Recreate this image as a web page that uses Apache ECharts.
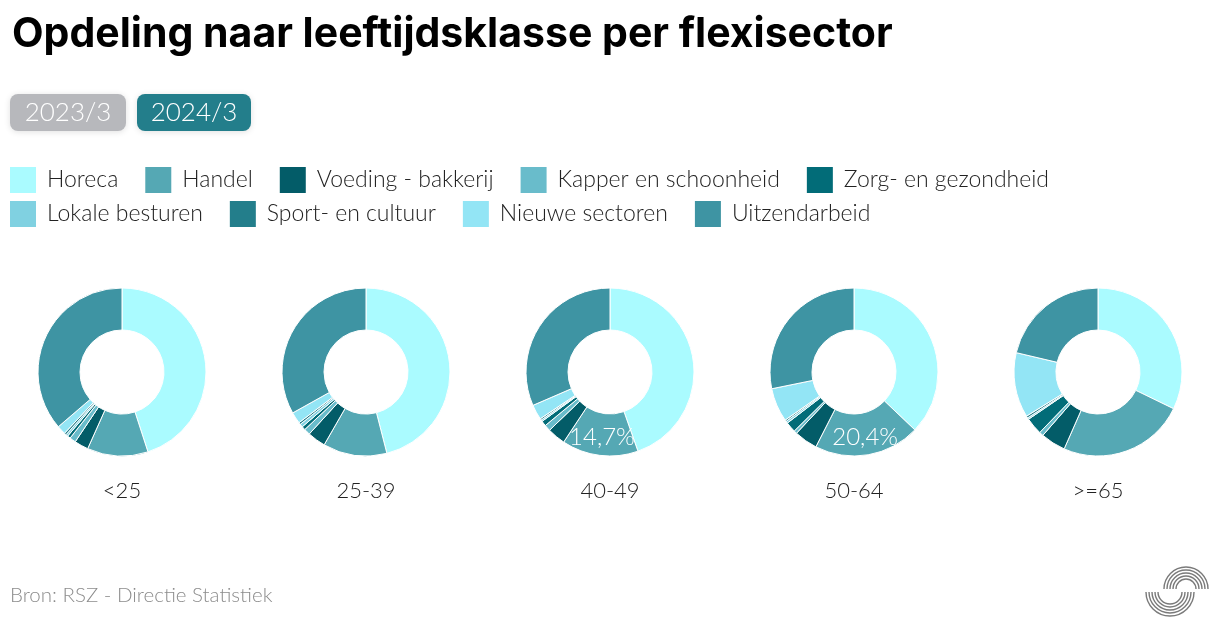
<!DOCTYPE html>
<html>
<head>
<meta charset="utf-8">
<script src="https://cdn.jsdelivr.net/npm/echarts@6/dist/echarts.min.js"></script>
<style>
html,body{margin:0;padding:0;background:#fff;}
#chart{width:1220px;height:632px;}
</style>
</head>
<body>
<div id="chart"></div>
<script>
const titleText = 'Opdeling naar leeftijdsklasse per flexisector';
const periods = ['2023/3', '2024/3'];
const sourceText = 'Bron: RSZ - Directie Statistiek';
const sectors = ['Horeca','Handel','Voeding - bakkerij','Kapper en schoonheid','Zorg- en gezondheid','Lokale besturen','Sport- en cultuur','Nieuwe sectoren','Uitzendarbeid'];
const sectorColors = ['#aafbff','#55a8b4','#035c68','#69bccb','#026c78','#80d1e1','#237e8b','#93e5f5','#3e94a3'];
const ageGroups = ['<25','25-39','40-49','50-64','>=65'];
const valuesLt25  = [45.0, 11.7, 2.7, 1.2, 0.6, 0.4, 0.4, 1.7, 36.3];
const values25_39 = [46.0, 12.3, 3.5, 1.2, 0.7, 0.6, 0.4, 2.2, 33.1];
const values40_49 = [44.6, 14.7, 3.5, 1.2, 1.0, 0.3, 0.3, 2.9, 31.5];
const values50_64 = [37.1, 20.4, 4.5, 0.6, 2.0, 0.4, 0.3, 6.5, 28.2];
const valuesGe65  = [32.2, 24.4, 4.8, 0.8, 3.3, 0.3, 0.4, 12.5, 21.3];
const labeledSlices = [[], [], ['Handel'], ['Handel'], []];

const allValues = [valuesLt25, values25_39, values40_49, values50_64, valuesGe65];
const lightFont = 'Lato';

const chart = echarts.init(document.getElementById('chart'), null, {renderer:'canvas'});

const series = ageGroups.map((age, i) => ({
  type: 'pie',
  name: age,
  center: [(10 + 20 * i) + '%', 372],
  radius: [42, 84],
  startAngle: 90,
  clockwise: true,
  avoidLabelOverlap: false,
  emphasis: { scale: false },
  itemStyle: { borderColor: '#ffffff', borderWidth: 1 },
  label: { show: false },
  labelLine: { show: false },
  data: sectors.map((s, j) => {
    const d = { name: s, value: allValues[i][j] };
    if (labeledSlices[i].indexOf(s) >= 0) {
      d.label = {
        show: true, position: 'inside', color: '#ffffff',
        fontFamily: lightFont, fontWeight: 300, fontSize: 24,
        formatter: p => String(p.value).replace('.', ',') + '%'
      };
    }
    return d;
  })
}));

const legendCommon = {
  icon: 'rect', itemWidth: 28, itemHeight: 28, itemGap: 25, left: 3,
  orient: 'horizontal',
  textStyle: { fontFamily: lightFont, fontWeight: 300, fontSize: 23, color: '#222222', padding: [0, 0, 0, 5] }
};

const graphics = [];
// period buttons
const btnDefs = [
  { x: 10, w: 116, fill: '#b7b8bc' },
  { x: 137, w: 114, fill: '#237e8b' }
];
periods.forEach((p, i) => {
  graphics.push({
    type: 'group', left: btnDefs[i].x, top: 94,
    children: [
      { type: 'rect', shape: { x: 0, y: 0, width: btnDefs[i].w, height: 37, r: 8 },
        style: { fill: btnDefs[i].fill, shadowBlur: 6, shadowColor: 'rgba(0,0,0,0.12)', shadowOffsetY: 1 } },
      { type: 'text', x: btnDefs[i].w / 2, y: 18.5,
        style: { text: p, fill: '#ffffff', font: '300 26px ' + lightFont, align: 'center', verticalAlign: 'middle' } }
    ]
  });
});
// age labels
ageGroups.forEach((age, i) => {
  graphics.push({
    type: 'text', x: 1220 * (0.1 + 0.2 * i), y: 491,
    style: { text: age, fill: '#222222', font: '300 22px ' + lightFont, align: 'center', verticalAlign: 'middle' }
  });
});
// source
graphics.push({
  type: 'text', x: 10, y: 595,
  style: { text: sourceText, fill: '#8c8c8c', font: '300 20.5px ' + lightFont, align: 'left', verticalAlign: 'middle' }
});
// logo
[10, 13, 16, 19, 22].forEach(r => {
  graphics.push({ type: 'arc', shape: { cx: 1186, cy: 589, r: r, startAngle: Math.PI, endAngle: 2 * Math.PI, clockwise: true },
    style: { stroke: '#7a7a7a', lineWidth: 1.4, fill: null } });
});
[12, 15, 18, 21, 24].forEach(r => {
  graphics.push({ type: 'arc', shape: { cx: 1170, cy: 592, r: r, startAngle: 0, endAngle: Math.PI, clockwise: true },
    style: { stroke: '#7a7a7a', lineWidth: 1.4, fill: null } });
});

chart.setOption({
  backgroundColor: '#ffffff',
  color: sectorColors,
  animation: false,
  title: {
    text: titleText, left: 7, top: 9,
    textStyle: { fontFamily: 'Inter', fontWeight: 700, fontSize: 41, color: '#000000' }
  },
  legend: [
    Object.assign({}, legendCommon, { top: 160, data: sectors.slice(0, 5) }),
    Object.assign({}, legendCommon, { top: 194, data: sectors.slice(5) })
  ],
  series: series,
  graphic: graphics
});
</script>
</body>
</html>
